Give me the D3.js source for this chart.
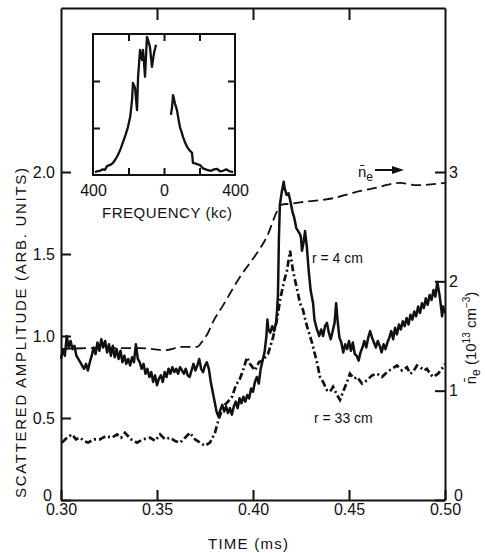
<!DOCTYPE html>
<html>
<head>
<meta charset="utf-8">
<script src="https://cdn.jsdelivr.net/npm/d3@7"></script>
<style>
  body { margin: 0; background: #fff; }
  text { font-family: "Liberation Sans", Arial, sans-serif; fill: #111; }
</style>
</head>
<body>
<svg id="chart" width="485" height="553"></svg>
<script>
// time ticks (ms) and axis ticks
var timeTicks = [0.30, 0.35, 0.40, 0.45, 0.50];
var ampTicks = [0, 0.5, 1.0, 1.5, 2.0];
var neTicks = [0, 1, 2, 3];
var freqTicks = [-400, 0, 400];

// scattered amplitude, r = 4 cm  [time ms, amplitude]
var r4cm = [
  [0.3000,0.86],[0.3010,0.92],[0.3020,0.88],[0.3030,1.00],[0.3040,0.93],[0.3050,0.97],[0.3060,0.92],
  [0.3070,0.94],[0.3080,0.88],[0.3090,0.86],[0.3100,0.84],[0.3110,0.82],[0.3120,0.80],[0.3130,0.83],
  [0.3140,0.79],[0.3150,0.84],[0.3160,0.88],[0.3170,0.93],[0.3180,0.89],[0.3190,0.96],[0.3200,0.91],
  [0.3210,0.98],[0.3220,0.93],[0.3230,0.97],[0.3240,0.90],[0.3250,0.95],[0.3260,0.88],[0.3270,0.94],
  [0.3280,0.87],[0.3290,0.92],[0.3300,0.86],[0.3310,0.91],[0.3320,0.84],[0.3330,0.88],[0.3340,0.83],
  [0.3350,0.86],[0.3360,0.82],[0.3370,0.87],[0.3380,0.84],[0.3390,0.95],[0.3400,0.86],[0.3410,0.84],
  [0.3420,0.80],[0.3430,0.83],[0.3440,0.77],[0.3450,0.80],[0.3460,0.75],[0.3470,0.78],[0.3480,0.72],
  [0.3490,0.76],[0.3500,0.70],[0.3510,0.74],[0.3520,0.76],[0.3530,0.72],[0.3540,0.78],[0.3550,0.75],
  [0.3560,0.80],[0.3570,0.77],[0.3580,0.81],[0.3590,0.78],[0.3600,0.80],[0.3610,0.77],[0.3620,0.81],
  [0.3630,0.79],[0.3640,0.77],[0.3650,0.80],[0.3660,0.76],[0.3670,0.75],[0.3680,0.79],[0.3690,0.83],
  [0.3700,0.79],[0.3710,0.82],[0.3720,0.86],[0.3730,0.80],[0.3740,0.78],[0.3750,0.82],[0.3760,0.84],
  [0.3770,0.80],[0.3780,0.72],[0.3790,0.66],[0.3800,0.60],[0.3810,0.54],[0.3820,0.51],[0.3830,0.55],
  [0.3840,0.58],[0.3850,0.54],[0.3860,0.57],[0.3870,0.53],[0.3880,0.56],[0.3890,0.52],[0.3900,0.57],
  [0.3910,0.60],[0.3920,0.56],[0.3930,0.62],[0.3940,0.59],[0.3950,0.63],[0.3960,0.60],[0.3970,0.64],
  [0.3980,0.62],[0.3990,0.68],[0.4000,0.66],[0.4010,0.72],[0.4020,0.75],[0.4030,0.71],[0.4040,0.80],
  [0.4050,0.85],[0.4060,0.90],[0.4070,1.00],[0.4075,1.10],[0.4080,1.04],[0.4090,1.02],[0.4100,1.06],
  [0.4110,1.03],[0.4120,1.08],[0.4125,1.15],[0.4130,1.25],[0.4135,1.60],[0.4140,1.80],[0.4150,1.88],
  [0.4160,1.94],[0.4165,1.90],[0.4175,1.86],[0.4185,1.87],[0.4195,1.82],[0.4205,1.76],[0.4215,1.72],
  [0.4225,1.66],[0.4235,1.64],[0.4245,1.62],[0.4250,1.60],[0.4255,1.52],[0.4265,1.58],[0.4271,1.64],
  [0.4280,1.55],[0.4290,1.40],[0.4300,1.28],[0.4313,1.20],[0.4320,1.10],[0.4333,1.04],[0.4345,1.00],
  [0.4355,1.04],[0.4365,1.00],[0.4375,1.06],[0.4385,1.08],[0.4395,1.02],[0.4405,0.98],[0.4415,1.03],
  [0.4425,1.08],[0.4433,1.20],[0.4440,1.10],[0.4450,0.99],[0.4460,0.96],[0.4470,0.90],[0.4480,0.95],
  [0.4490,0.92],[0.4500,0.97],[0.4510,0.91],[0.4520,0.96],[0.4530,0.89],[0.4540,0.88],[0.4550,0.85],
  [0.4560,0.90],[0.4570,0.93],[0.4580,0.97],[0.4590,0.93],[0.4600,0.99],[0.4610,1.03],[0.4620,0.99],
  [0.4630,0.96],[0.4640,0.93],[0.4650,0.97],[0.4660,0.94],[0.4670,0.90],[0.4680,0.95],[0.4690,0.92],
  [0.4700,0.96],[0.4710,0.99],[0.4720,1.03],[0.4730,0.98],[0.4740,1.05],[0.4750,1.01],[0.4760,1.07],
  [0.4770,1.04],[0.4780,1.09],[0.4790,1.06],[0.4800,1.11],[0.4810,1.07],[0.4820,1.13],[0.4830,1.10],
  [0.4840,1.15],[0.4850,1.12],[0.4860,1.18],[0.4870,1.14],[0.4880,1.20],[0.4890,1.17],[0.4900,1.23],
  [0.4910,1.19],[0.4920,1.25],[0.4930,1.22],[0.4940,1.28],[0.4950,1.24],[0.4960,1.33],[0.4970,1.26],
  [0.4975,1.22],[0.4985,1.12],[0.4990,1.18],[0.5000,1.14]
];

// scattered amplitude, r = 33 cm
var r33cm = [
  [0.3005,0.35],[0.3031,0.38],[0.3057,0.40],[0.3078,0.37],[0.3099,0.38],[0.3120,0.36],[0.3141,0.35],
  [0.3172,0.37],[0.3203,0.37],[0.3234,0.39],[0.3266,0.38],[0.3292,0.40],[0.3313,0.38],[0.3333,0.41],
  [0.3365,0.37],[0.3396,0.35],[0.3427,0.37],[0.3464,0.38],[0.3490,0.36],[0.3516,0.40],[0.3542,0.37],
  [0.3568,0.38],[0.3594,0.36],[0.3620,0.35],[0.3646,0.38],[0.3672,0.41],[0.3698,0.37],[0.3724,0.35],
  [0.3750,0.33],[0.3776,0.35],[0.3802,0.41],[0.3818,0.48],[0.3844,0.57],[0.3870,0.60],[0.3891,0.63],
  [0.3911,0.70],[0.3932,0.74],[0.3948,0.79],[0.3969,0.87],[0.3984,0.83],[0.4010,0.79],[0.4031,0.84],
  [0.4047,0.85],[0.4078,0.89],[0.4104,0.99],[0.4125,1.10],[0.4141,1.22],[0.4161,1.33],[0.4177,1.40],
  [0.4193,1.52],[0.4208,1.40],[0.4219,1.34],[0.4234,1.26],[0.4245,1.20],[0.4260,1.16],[0.4281,1.06],
  [0.4307,0.96],[0.4333,0.84],[0.4349,0.75],[0.4365,0.72],[0.4385,0.67],[0.4401,0.66],[0.4417,0.69],
  [0.4438,0.64],[0.4453,0.61],[0.4469,0.66],[0.4490,0.72],[0.4505,0.77],[0.4526,0.74],[0.4542,0.75],
  [0.4568,0.71],[0.4594,0.73],[0.4620,0.76],[0.4646,0.77],[0.4672,0.75],[0.4698,0.78],[0.4724,0.80],
  [0.4750,0.82],[0.4776,0.79],[0.4802,0.81],[0.4818,0.77],[0.4833,0.78],[0.4854,0.82],[0.4870,0.81],
  [0.4891,0.79],[0.4906,0.80],[0.4922,0.77],[0.4938,0.75],[0.4964,0.77],[0.4990,0.81],[0.5000,0.83]
];

// mean density n_e (10^13 cm^-3), right axis
var density = [
  [0.3000,1.38],[0.3203,1.39],[0.3411,1.39],[0.3542,1.37],[0.3630,1.40],[0.3708,1.40],[0.3740,1.46],
  [0.3766,1.53],[0.3792,1.63],[0.3844,1.78],[0.3932,2.04],[0.4021,2.26],[0.4073,2.41],[0.4125,2.64],
  [0.4146,2.70],[0.4193,2.71],[0.4281,2.73],[0.4417,2.76],[0.4521,2.81],[0.4625,2.85],[0.4766,2.90],
  [0.4854,2.88],[0.5000,2.90]
];

// inset spectrum [frequency kc, amplitude], two branches
var spectrumLow = [
  [-389,0.06],[-375,0.08],[-361,0.09],[-345,0.12],[-332,0.11],[-321,0.19],[-300,0.22],[-287,0.26],
  [-272,0.34],[-259,0.43],[-245,0.55],[-231,0.70],[-217,0.85],[-203,1.02],[-190,1.25],[-180,1.60],
  [-175,1.96],[-163,1.85],[-152,1.38],[-146,2.09],[-135,2.66],[-124,2.45],[-118,2.66],[-107,2.09],
  [-96,2.94],[-90,2.87],[-79,2.72],[-68,2.30],[-56,2.60],[-45,2.77]
];
var spectrumHigh = [
  [39,1.28],[45,1.43],[51,1.70],[62,1.52],[73,1.38],[82,1.18],[90,1.02],[100,0.90],[107,0.81],
  [120,0.68],[130,0.60],[145,0.52],[158,0.47],[163,0.26],[180,0.24],[203,0.21],[220,0.14],[242,0.11],
  [265,0.09],[282,0.12],[299,0.13],[315,0.08],[332,0.09],[350,0.12],[370,0.08],[389,0.06]
];

var svg = d3.select("#chart");

// main plot frame
var plotLeft = 61, plotRight = 445, plotTop = 8, plotBottom = 500;

var x = d3.scaleLinear().domain([0.30, 0.50]).range([plotLeft, plotRight]);
var y = d3.scaleLinear().domain([0, 3]).range([plotBottom, plotTop]);
var yR = d3.scaleLinear().domain([0, 4.5]).range([plotBottom, plotTop]);

function styleAxis(g) {
  g.selectAll("path.domain").attr("stroke", "#111").attr("stroke-width", 2);
  g.selectAll(".tick line").attr("stroke", "#111").attr("stroke-width", 2);
  g.selectAll(".tick text").attr("font-size", 16).attr("fill", "#111")
    .attr("font-family", "Liberation Sans, Arial, sans-serif");
}

svg.append("g")
    .attr("transform", "translate(0," + plotBottom + ")")
    .call(d3.axisBottom(x).tickValues(timeTicks).tickSize(-10).tickSizeOuter(0).tickPadding(4)
      .tickFormat(d3.format(".2f")))
    .call(styleAxis);

svg.append("g")
    .attr("transform", "translate(0," + plotTop + ")")
    .call(d3.axisTop(x).tickValues([0.35, 0.40, 0.45]).tickSize(-12).tickSizeOuter(0).tickFormat(""))
    .call(styleAxis);

var gl = svg.append("g")
    .attr("transform", "translate(" + plotLeft + ",0)")
    .call(d3.axisLeft(y).tickValues(ampTicks).tickSize(-10).tickSizeOuter(0).tickPadding(6)
      .tickFormat(function(d) { return d === 0 ? "0" : d3.format(".1f")(d); }))
    .call(styleAxis);
gl.selectAll(".tick text").filter(function(d) { return d === 0; })
    .attr("dy", "0em").attr("x", -9);

var gr = svg.append("g")
    .attr("transform", "translate(" + plotRight + ",0)")
    .call(d3.axisRight(yR).tickValues(neTicks).tickSize(-10).tickSizeOuter(0).tickPadding(4)
      .tickFormat(d3.format("d")))
    .call(styleAxis);
gr.selectAll(".tick text").filter(function(d) { return d === 0; })
    .attr("dy", "0em").attr("x", 9);

// traces
var line = d3.line().x(function(d) { return x(d[0]); }).y(function(d) { return y(d[1]); });
var lineR = d3.line().x(function(d) { return x(d[0]); }).y(function(d) { return yR(d[1]); })
    .curve(d3.curveMonotoneX);

svg.append("path")
    .attr("d", lineR(density))
    .attr("fill", "none")
    .attr("stroke", "#111")
    .attr("stroke-width", 1.8)
    .attr("stroke-dasharray", "10,5");

svg.append("path")
    .attr("d", line(r33cm))
    .attr("fill", "none")
    .attr("stroke", "#111")
    .attr("stroke-width", 2.7)
    .attr("stroke-dasharray", "7,3,2,3");

svg.append("path")
    .attr("d", line(r4cm))
    .attr("fill", "none")
    .attr("stroke", "#111")
    .attr("stroke-width", 2.5)
    .attr("stroke-linejoin", "round");

// axis titles
svg.append("text")
    .attr("transform", "translate(26,333) rotate(-90)")
    .attr("text-anchor", "middle")
    .attr("font-size", 15)
    .attr("textLength", 330)
    .attr("lengthAdjust", "spacing")
    .text("SCATTERED AMPLITUDE (ARB. UNITS)");

svg.append("text")
    .attr("x", 248).attr("y", 549)
    .attr("text-anchor", "middle")
    .attr("font-size", 15)
    .attr("textLength", 80)
    .attr("lengthAdjust", "spacing")
    .text("TIME (ms)");

var rt = svg.append("text")
    .attr("transform", "translate(476,338) rotate(-90)")
    .attr("text-anchor", "middle")
    .attr("font-size", 15);
rt.append("tspan").text("n\u0304");
rt.append("tspan").attr("font-size", 12).attr("dy", 4).text("e");
rt.append("tspan").attr("dy", -4).text(" (10");
rt.append("tspan").attr("font-size", 10).attr("dy", -6).text("13");
rt.append("tspan").attr("dy", 6).text(" cm");
rt.append("tspan").attr("font-size", 10).attr("dy", -6).text("\u22123");
rt.append("tspan").attr("dy", 6).text(")");

// annotations
var na = svg.append("text").attr("x", 358).attr("y", 177).attr("font-size", 15);
na.append("tspan").text("n\u0304");
na.append("tspan").attr("font-size", 12).attr("dy", 4).text("e");

svg.append("line")
    .attr("x1", 375).attr("y1", 170).attr("x2", 394).attr("y2", 170)
    .attr("stroke", "#111").attr("stroke-width", 2);
svg.append("path")
    .attr("d", "M392,166 L404,170 L392,174 Z")
    .attr("fill", "#111");

svg.append("text").attr("x", 312).attr("y", 263).attr("font-size", 14).text("r = 4 cm");
svg.append("text").attr("x", 314).attr("y", 423).attr("font-size", 14).text("r = 33 cm");

// inset spectrum
var ix = d3.scaleLinear().domain([-400, 400]).range([93, 235]);
var iy = d3.scaleLinear().domain([0, 3]).range([175, 34]);

svg.append("rect")
    .attr("x", 93).attr("y", 34).attr("width", 142).attr("height", 141)
    .attr("fill", "#fff").attr("stroke", "#111").attr("stroke-width", 2);

function styleInset(g) {
  g.selectAll("path.domain").remove();
  g.selectAll(".tick line").attr("stroke", "#111").attr("stroke-width", 2);
  g.selectAll(".tick text").attr("font-size", 16).attr("fill", "#111")
    .attr("font-family", "Liberation Sans, Arial, sans-serif");
}

svg.append("g")
    .attr("transform", "translate(0,175)")
    .call(d3.axisBottom(ix).tickValues([-200, 0, 200]).tickSize(-7).tickFormat(""))
    .call(styleInset);
svg.append("g")
    .attr("transform", "translate(0,34)")
    .call(d3.axisTop(ix).tickValues([-200, 0, 200]).tickSize(-7).tickFormat(""))
    .call(styleInset);
svg.append("g")
    .attr("transform", "translate(93,0)")
    .call(d3.axisLeft(iy).tickValues([1, 2]).tickSize(-7).tickFormat(""))
    .call(styleInset);
svg.append("g")
    .attr("transform", "translate(235,0)")
    .call(d3.axisRight(iy).tickValues([1, 2]).tickSize(-7).tickFormat(""))
    .call(styleInset);

svg.append("g")
    .attr("transform", "translate(0,181)")
    .call(d3.axisBottom(ix).tickValues(freqTicks).tickSize(0).tickPadding(4)
      .tickFormat(function(d) { return Math.abs(d); }))
    .call(styleInset);

svg.append("text")
    .attr("x", 167).attr("y", 218)
    .attr("text-anchor", "middle")
    .attr("font-size", 15)
    .attr("textLength", 130)
    .attr("lengthAdjust", "spacing")
    .text("FREQUENCY (kc)");

var iline = d3.line().x(function(d) { return ix(d[0]); }).y(function(d) { return iy(d[1]); });
[spectrumLow, spectrumHigh].forEach(function(s) {
  svg.append("path")
      .attr("d", iline(s))
      .attr("fill", "none")
      .attr("stroke", "#111")
      .attr("stroke-width", 2.3)
      .attr("stroke-linejoin", "round");
});
</script>
</body>
</html>
